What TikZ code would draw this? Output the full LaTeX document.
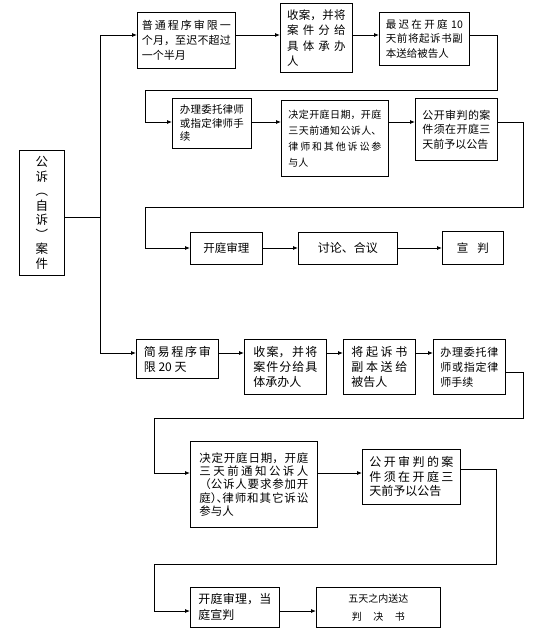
\documentclass[tikz,border=0pt]{standalone}
\usepackage{fontspec}
\setmainfont{Noto Sans CJK SC}
\usetikzlibrary{arrows.meta}
\XeTeXlinebreaklocale "zh"
\XeTeXlinebreakskip = 0pt plus 2pt
\hbadness=10000
\tikzstyle{box} = [rectangle, 
draw=black, 
line width=0.8pt, 
anchor=north west, 
inner xsep=0pt, 
inner ysep=2pt, 
align=justify]
\tikzstyle{wire} = [line width=0.8pt]
\tikzstyle{arrow} = [line width=0.8pt,-{Latex[length=5pt,width=4pt]}]
\newcommand{\halfpunct}[1]{{\addfontfeatures{RawFeature=+halt}#1}}

\begin{document}
\begin{tikzpicture}[x=1pt, y=-1pt]
        \useasboundingbox (0,0) rectangle (553,629);

        % --- Alturas de las conexiones y esquinas ---
        \coordinate (row1) at (0,35);
        \coordinate (row2) at (0,122);
        \coordinate (row3) at (0,248);
        \coordinate (row4) at (0,353);
        \coordinate (row5) at (0,473);
        \coordinate (row6) at (0,611);
        \coordinate (j1) at (100,217);
        \coordinate (bend1) at (145,90);
        \coordinate (bend2) at (145,207);
        \coordinate (bend3) at (154,418);
        \coordinate (bend4) at (154,564);

        % --- Nodo de inicio ---
        \node (case) [box, align=center, minimum width=45pt, minimum height=125pt, font=\fontsize{12.5}{14.5}\selectfont] at (19,150) {公\\诉\\︵\\自\\诉\\︶\\案\\件};

        % --- Procedimiento ordinario ---
        \node (normal) [box, text width=89pt, minimum width=98pt, minimum height=56pt, font=\fontsize{11}{15}\selectfont] at (137,12) {普通程序审限一\linebreak 个月，至迟不超过\linebreak 一个半月};
        \node (accept) [box, text width=58.5pt, minimum width=72pt, minimum height=69pt, font=\fontsize{11.5}{15.5}\selectfont] at (280,3) {收案，并将\linebreak 案件分给\linebreak 具体承办\linebreak 人};
        \node (serve) [box, text width=77pt, minimum width=90pt, minimum height=53pt, font=\fontsize{10.5}{14.5}\selectfont] at (379,12) {最迟在开庭 10\linebreak 天前将起诉书副\linebreak 本送给被告人};
        \node (lawyer) [box, text width=64pt, minimum width=79pt, minimum height=50pt, font=\fontsize{10.5}{13.5}\selectfont] at (172,98) {办理委托律师\linebreak 或指定律师手\linebreak 续};
        \node (date) [box, text width=93pt, minimum width=107pt, minimum height=76pt, font=\fontsize{10}{16}\selectfont] at (281,100) {决定开庭日期，开庭\linebreak 三天前通知公诉人、\linebreak 律师和其他诉讼参\linebreak 与人};
        \node (notice) [box, text width=68pt, minimum width=82pt, minimum height=62pt, font=\fontsize{11}{14.5}\selectfont] at (415,98) {公开审判的案\linebreak 件须在开庭三\linebreak 天前予以公告};
        \node (trial) [box, align=center, minimum width=72pt, minimum height=32pt, font=\fontsize{11.5}{14}\selectfont] at (190,232) {开庭审理};
        \node (discuss) [box, align=center, minimum width=99pt, minimum height=32pt, font=\fontsize{12}{14}\selectfont] at (298,232) {讨论、合议};
        \node (verdict) [box, align=center, minimum width=61pt, minimum height=33pt, font=\fontsize{11.5}{14}\selectfont] at (442,231) {宣\hspace{9pt}判};

        % --- Procedimiento simplificado ---
        \node (simple) [box, text width=67pt, minimum width=82pt, minimum height=39pt, font=\fontsize{12}{15}\selectfont] at (136,339) {简易程序审\linebreak 限 20 天};
        \node (accept2) [box, text width=64pt, minimum width=82pt, minimum height=55pt, font=\fontsize{12}{15}\selectfont] at (244,339) {收案，并将\linebreak 案件分给具\linebreak 体承办人};
        \node (serve2) [box, text width=56pt, minimum width=72pt, minimum height=55pt, font=\fontsize{12}{15}\selectfont] at (343,339) {将起诉书\linebreak 副本送给\linebreak 被告人};
        \node (lawyer2) [box, text width=58pt, minimum width=72pt, minimum height=55pt, font=\fontsize{11}{15}\selectfont] at (433,339) {办理委托律\linebreak 师或指定律\linebreak 师手续};
        \node (date2) [box, text width=109pt, minimum width=127pt, minimum height=86pt, font=\fontsize{11.5}{13.25}\selectfont] at (190,441) {决定开庭日期，开庭\linebreak 三天前通知公诉人\linebreak （公诉人要求参加开\linebreak 庭\halfpunct{）、}律师和其它诉讼\linebreak 参与人};
        \node (notice2) [box, text width=84pt, minimum width=98pt, minimum height=55pt, font=\fontsize{12}{14.5}\selectfont] at (362,449) {公开审判的案\linebreak 件须在开庭三\linebreak 天前予以公告};
        \node (trial2) [box, text width=73pt, minimum width=89pt, minimum height=40pt, font=\fontsize{12}{16}\selectfont] at (190,587) {开庭审理，当\linebreak 庭宣判};
        \node (deliver) [box, align=center, minimum width=124pt, minimum height=40pt, font=\fontsize{10}{18}\selectfont] at (316,587) {五天之内送达\\判\hspace{11.5pt}决\hspace{11.5pt}书};

        % --- Ramificación desde el caso ---
        \draw [wire] (case.east |- j1) -- (j1);
        \draw [arrow] (j1) |- (normal.west |- row1);
        \draw [arrow] (j1) |- (simple.west |- row4);

        % --- Procedimiento ordinario ---
        \draw [arrow] (normal.east |- row1) -- (accept.west |- row1);
        \draw [arrow] (accept.east |- row1) -- (serve.west |- row1);
        \draw [arrow] (serve.east |- row1) -- ++(28,0) |- (bend1) |- (lawyer.west |- row2);
        \draw [arrow] (lawyer.east |- row2) -- (date.west |- row2);
        \draw [arrow] (date.east |- row2) -- (notice.west |- row2);
        \draw [arrow] (notice.east |- row2) -- ++(26,0) |- (bend2) |- (trial.west |- row3);
        \draw [arrow] (trial.east |- row3) -- (discuss.west |- row3);
        \draw [arrow] (discuss.east |- row3) -- (verdict.west |- row3);

        % --- Procedimiento simplificado ---
        \draw [arrow] (simple.east |- row4) -- (accept2.west |- row4);
        \draw [arrow] (accept2.east |- row4) -- (serve2.west |- row4);
        \draw [arrow] (serve2.east |- row4) -- (lawyer2.west |- row4);
        \draw [arrow] ([yshift=-5.5pt]lawyer2.east) -- ++(18,0) |- (bend3) |- (date2.west |- row5);
        \draw [arrow] (date2.east |- row5) -- (notice2.west |- row5);
        \draw [arrow] ([yshift=7.5pt]notice2.east) -- ++(36,0) |- (bend4) |- (trial2.west |- row6);
        \draw [arrow] (trial2.east |- row6) -- (deliver.west |- row6);

    \end{tikzpicture}
\end{document}
